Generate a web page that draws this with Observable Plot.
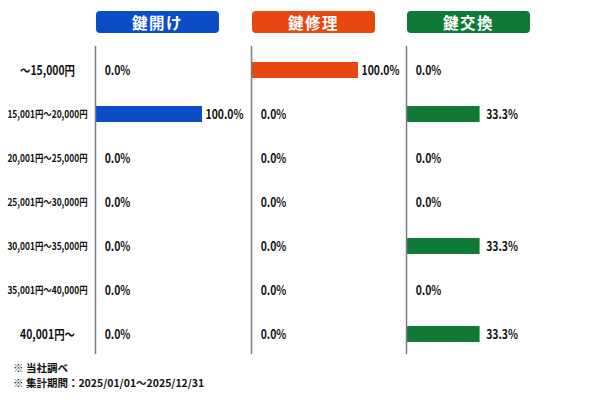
<!DOCTYPE html>
<html lang="ja">
<head>
<meta charset="utf-8">
<script src="https://cdn.jsdelivr.net/npm/d3@7"></script>
<script src="https://cdn.jsdelivr.net/npm/@observablehq/plot@0.6"></script>
<style>
  html, body { margin: 0; padding: 0; background: #fff; }
  #chart {
    position: relative; width: 600px; height: 400px; overflow: hidden;
    background: #fff; font-family: "Noto Sans CJK JP", "Noto Sans", sans-serif;
  }
  .panel { position: absolute; top: 40px; }
  .panel svg { overflow: visible; }
  .badge {
    position: absolute; top: 11px; height: 22px; border-radius: 4px;
    color: #fff; font-weight: 700; font-size: 15.5px; letter-spacing: 1.5px;
    display: flex; align-items: center; justify-content: center;
  }
  .note {
    position: absolute; left: 13px; font-size: 10.5px; font-weight: 700;
    color: #111; white-space: pre; line-height: 1;
  }
</style>
</head>
<body>
<div id="chart"></div>
<script>
// Price bands (rows)
const priceRanges = [
  "〜15,000円",
  "15,001円〜20,000円",
  "20,001円〜25,000円",
  "25,001円〜30,000円",
  "30,001円〜35,000円",
  "35,001円〜40,000円",
  "40,001円〜"
];

// Service names (panels)
const services = ["鍵開け", "鍵修理", "鍵交換"];

// Share of jobs in each price band, per service
const shareUnlock  = [0, 1, 0, 0, 0, 0, 0];
const shareRepair  = [1, 0, 0, 0, 0, 0, 0];
const shareReplace = [0, 0.333, 0, 0, 0.333, 0, 0.333];

const notes = ["※ 当社調べ", "※ 集計期間：2025/01/01〜2025/12/31"];

const seriesValues = [shareUnlock, shareRepair, shareReplace];
const colors = ["#0b4cc7", "#e8470f", "#0e7a35"];

// Panel geometry: each panel has its own x scale
const panels = [
  {left: 0,   width: 251, marginLeft: 95, marginRight: 34, xMax: 1.14},
  {left: 241, width: 165, marginLeft: 10, marginRight: 33, xMax: 1.14},
  {left: 396, width: 204, marginLeft: 10, marginRight: 72, xMax: 0.552}
];

const fmt = d3.format(".1%");
const chart = document.getElementById("chart");

services.forEach((name, i) => {
  const p = panels[i];
  const rows = priceRanges.map((range, j) => ({range, value: seriesValues[i][j]}));

  const marks = [
    Plot.barX(rows, {x: "value", y: "range", fill: colors[i]}),
    Plot.ruleX([0], {stroke: "#7d7d7d", strokeWidth: 1.5, insetBottom: 4}),
    Plot.text(rows, {
      x: "value", y: "range", text: d => fmt(d.value),
      textAnchor: "middle", dx: 22, fontSize: 13, fontWeight: 700,
      fill: "#111", className: "narrow"
    })
  ];
  if (i === 0) {
    marks.push(Plot.text(priceRanges, {
      y: d => d, text: d => d, frameAnchor: "left", dx: -48,
      textAnchor: "middle", fontSize: d => d.length > 10 ? 10.5 : 13,
      fontWeight: 700, fill: "#111", className: "narrow"
    }));
  }

  const svg = Plot.plot({
    width: p.width,
    height: 318,
    marginTop: 6,
    marginBottom: 0,
    marginLeft: p.marginLeft,
    marginRight: p.marginRight,
    style: {fontFamily: '"Noto Sans CJK JP", "Noto Sans", sans-serif', background: "transparent"},
    x: {domain: [0, p.xMax], axis: null},
    y: {type: "band", domain: priceRanges, paddingInner: 0.63, paddingOuter: 0.315, axis: null},
    marks
  });

  const holder = document.createElement("div");
  holder.className = "panel";
  holder.style.left = p.left + "px";
  holder.appendChild(svg);
  chart.appendChild(holder);

  // condensed lettering for the labels
  for (const t of svg.querySelectorAll("g.narrow text")) {
    const w = t.getComputedTextLength();
    t.setAttribute("textLength", (w * 0.8).toFixed(1));
    t.setAttribute("lengthAdjust", "spacingAndGlyphs");
  }

  // service header badge above each panel
  const badge = document.createElement("div");
  badge.className = "badge";
  badge.textContent = name;
  badge.style.background = colors[i];
  badge.style.left = (p.left + p.marginLeft + 1) + "px";
  badge.style.width = "123px";
  chart.appendChild(badge);
});

notes.forEach((text, k) => {
  const n = document.createElement("div");
  n.className = "note";
  n.textContent = text;
  n.style.top = (363 + k * 15) + "px";
  chart.appendChild(n);
});
</script>
</body>
</html>
